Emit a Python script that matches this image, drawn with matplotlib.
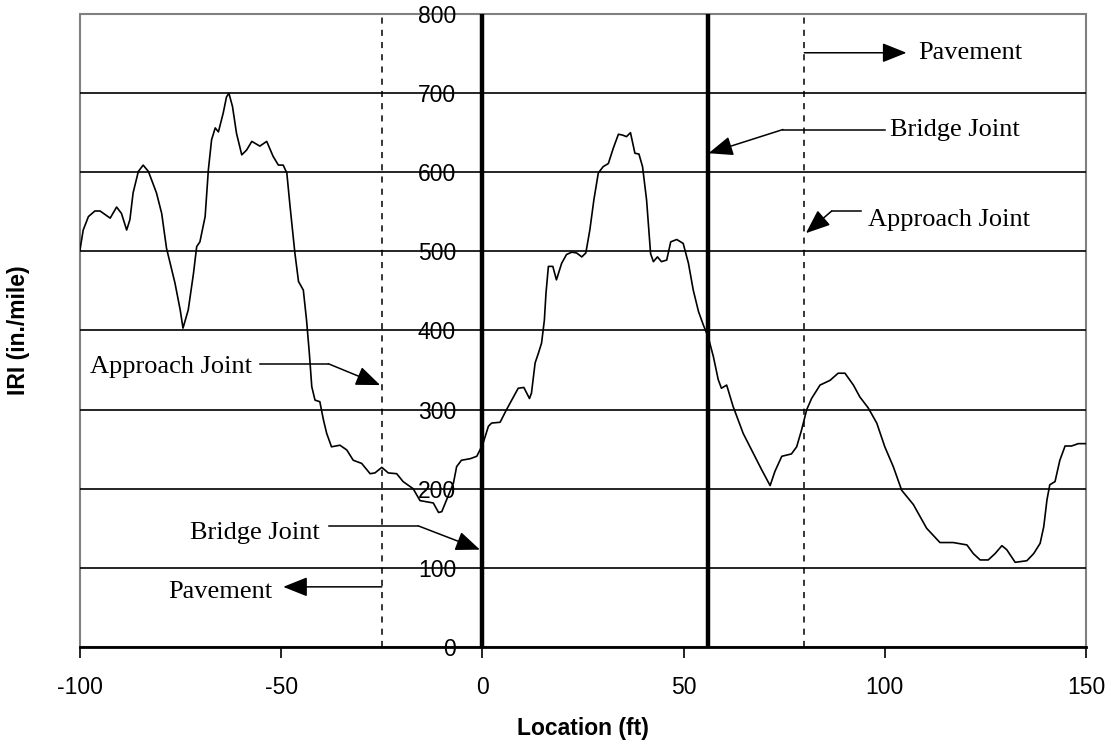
import matplotlib.pyplot as plt
from matplotlib.patches import Rectangle

# IRI profile (location in ft, IRI in in./mile)
location = [-100, -99.2, -97.9, -96.3, -95.0, -92.5, -90.9, -89.7, -88.4, -87.6,
            -86.8, -85.5, -84.3, -83.0, -81.0, -79.7, -78.5, -76.4, -75.1, -74.4,
            -73.1, -71.8, -71.0, -70.2, -68.9, -68.1, -67.3, -66.4, -65.6, -64.4,
            -63.6, -63.0, -62.1, -61.1, -59.8, -58.6, -57.3, -55.3, -53.6, -52.0,
            -50.7, -49.5, -48.6, -47.8, -46.6, -45.7, -44.5, -43.7, -43.0, -42.4,
            -41.6, -40.4, -39.5, -38.7, -37.5, -35.4, -33.7, -32.1, -30.0, -27.9,
            -26.7, -25.0, -23.4, -21.3, -19.7, -17.2, -15.5, -12.2, -10.9, -10.1,
            -8.9, -7.2, -6.4, -5.2, -3.0, -1.4, -0.6, 0.2, 1.5, 2.3,
            4.4, 6.0, 7.7, 8.9, 10.3, 11.7, 12.2, 13.1, 13.9, 14.7,
            15.4, 15.8, 16.4, 17.5, 18.4, 19.7, 20.9, 22.2, 23.4, 24.7,
            25.7, 26.7, 27.7, 28.8, 30.0, 31.3, 32.5, 33.8, 34.8, 35.8,
            36.8, 37.9, 38.9, 39.8, 40.8, 41.8, 42.5, 43.5, 44.5, 45.8,
            46.8, 48.3, 49.9, 51.2, 52.4, 53.7, 54.9, 56.1, 57.4, 58.6,
            59.4, 60.7, 62.3, 64.8, 67.3, 69.4, 71.5, 72.7, 74.4, 76.8,
            78.1, 79.3, 80.6, 81.8, 83.9, 86.4, 88.4, 90.1, 92.2, 93.8,
            95.9, 98.0, 100.0, 102.1, 104.2, 107.1, 108.3, 110.4, 113.7, 117.0,
            120.4, 122.0, 123.7, 125.7, 127.4, 129.1, 130.3, 132.4, 135.3, 137.0,
            138.6, 139.5, 140.3, 141.0, 142.3, 143.5, 144.8, 146.4, 148.1, 150.0]
iri = [502, 527, 544, 551, 551, 542, 556, 548, 527, 540,
       574, 601, 609, 601, 574, 548, 504, 460, 426, 403,
       426, 472, 506, 512, 544, 603, 641, 656, 651, 675,
       695, 700, 683, 649, 622, 628, 639, 633, 639, 620,
       609, 609, 599, 557, 498, 462, 451, 413, 371, 329,
       312, 310, 287, 270, 253, 255, 249, 236, 232, 219,
       220, 227, 220, 219, 209, 200, 185, 182, 170, 171,
       186, 207, 228, 236, 238, 241, 249, 258, 279, 283,
       284, 300, 316, 327, 328, 314, 321, 359, 371, 384,
       413, 447, 481, 481, 464, 485, 496, 499, 498, 493,
       498, 527, 565, 599, 607, 611, 630, 648, 647, 645,
       650, 624, 623, 607, 565, 497, 487, 493, 487, 489,
       512, 515, 510, 485, 451, 424, 407, 392, 367, 338,
       327, 331, 304, 270, 245, 224, 204, 222, 241, 244,
       253, 274, 300, 314, 331, 337, 346, 346, 331, 316,
       302, 283, 253, 228, 198, 180, 169, 150, 132, 132,
       129, 118, 110, 110, 118, 128, 123, 107, 109, 118,
       131, 152, 186, 205, 209, 236, 254, 254, 257, 257]

bridge_joints = [0, 56]
approach_joints = [-25, 80]

x_ticks = [-100, -50, 0, 50, 100, 150]
y_ticks = [0, 100, 200, 300, 400, 500, 600, 700, 800]

# callouts: text, text anchor (x, y), line start x, knee (x, y), arrow tip (x, y)
callouts = [
    ("Approach Joint", (-97.5, 354), -55.3, (-38.3, 358), (-25.4, 331)),
    ("Bridge Joint", (-72.7, 144), -38.0, (-15.9, 153), (-0.6, 123)),
    ("Bridge Joint", (101.3, 654), 100.0, (74.7, 654), (56.2, 624)),
    ("Approach Joint", (95.8, 540), 94.2, (86.8, 551), (80.4, 523)),
]
pavement_arrows = [
    ("Pavement", (108.3, 751), (80, 751), (105.4, 751)),
    ("Pavement", (-78.1, 70), (-25, 76), (-49.5, 76)),
]

fig = plt.figure(figsize=(11.11, 7.44), dpi=100)
ax = fig.add_axes([0.072, 0.1304, 0.9055, 0.8508])

sans = "Liberation Sans"
serif = "Liberation Serif"

# y axis sits on the x = 0 line (set before the ticks, it resets them)
ax.spines["left"].set_position(("data", 0))
ax.spines["left"].set_color("black")
ax.spines["top"].set_visible(False)
ax.spines["right"].set_visible(False)
ax.spines["bottom"].set_linewidth(2)
ax.spines["bottom"].set_zorder(6)
ax.add_patch(Rectangle((0, 0), 1, 1, transform=ax.transAxes, fill=False,
                       edgecolor="#808080", lw=1.5, zorder=0.5, clip_on=False))

for y in y_ticks[1:-1]:
    ax.axhline(y, color="black", lw=1.2, zorder=1)
for xj in approach_joints:
    ax.axvline(xj, color="black", lw=1.1, ls=(0, (4, 4)), zorder=2)
for xj in bridge_joints:
    ax.axvline(xj, color="black", lw=3.2, zorder=3)

ax.plot(location, iri, color="black", lw=1.2, zorder=4)

arrow_kw = dict(arrowstyle="-|>,head_length=0.75,head_width=0.3",
                color="black", lw=1.1, shrinkA=0, shrinkB=0, mutation_scale=20)
for label, (tx, ty), x0, (kx, ky), tip in callouts:
    ax.text(tx, ty, label, family=serif, fontsize=19, ha="left", va="center", zorder=5)
    ax.plot([x0, kx], [ky, ky], color="black", lw=1.1, zorder=5)
    ax.annotate("", xy=tip, xytext=(kx, ky), arrowprops=arrow_kw, zorder=5)

for label, (tx, ty), start, tip in pavement_arrows:
    ax.text(tx, ty, label, family=serif, fontsize=19, ha="left", va="center", zorder=5)
    ax.annotate("", xy=tip, xytext=start, arrowprops=arrow_kw, zorder=5)

ax.set_xlim(-100, 150)
ax.set_ylim(0, 800)
ax.set_xticks(x_ticks)
ax.set_yticks(y_ticks)
ax.set_xticklabels([str(t) for t in x_ticks], family=sans)
ax.set_yticklabels([str(t) for t in y_ticks], family=sans)

ax.tick_params(axis="y", length=0, pad=19, labelsize=16.5)
ax.tick_params(axis="x", direction="out", length=8, width=1.2, pad=13, labelsize=16.5)

ax.set_xlabel("Location (ft)", family=sans, fontsize=16.5, fontweight="bold", labelpad=13)
ax.set_ylabel("IRI (in./mile)", family=sans, fontsize=16.5, fontweight="bold")
ax.yaxis.set_label_coords(-0.05, 0.5)

fig.savefig("out.png", dpi=100)
